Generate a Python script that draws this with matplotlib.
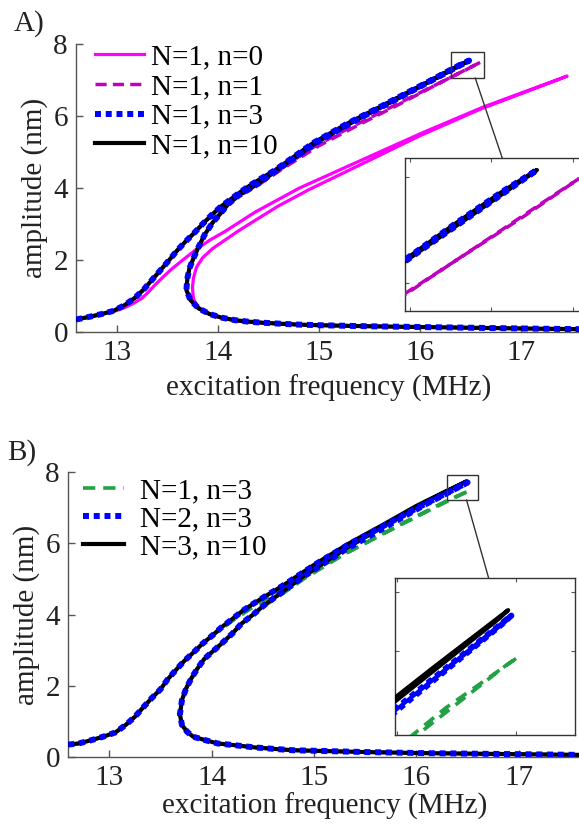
import matplotlib
matplotlib.use("Agg")
import matplotlib.pyplot as plt
from matplotlib.patches import Rectangle, ConnectionPatch

plt.rcParams['font.family'] = ['Liberation Serif', 'DejaVu Serif']

# ---- data (frequency in MHz, amplitude in nm) ----
# each curve: upper branch up to the peak, back along the unstable branch,
# round the turning point and out along the lower branch

# panel A: N=1, n=10 (black) and N=1, n=3 (blue) lie on top of each other
f_A_n10 = [12.60, 12.74, 12.85, 12.97, 13.08, 13.18, 13.27, 13.35, 13.44, 13.52,
           13.60, 13.68, 13.77, 13.85, 13.94, 14.03, 14.13, 14.23, 14.34, 14.45,
           14.57, 14.70, 14.95, 15.29, 15.62, 15.94, 16.14, 16.27, 16.40, 16.49,
           16.45, 16.20, 15.80, 15.40, 15.00, 14.65, 14.40, 14.21, 14.11, 13.95,
           13.87, 13.81, 13.76, 13.72, 13.70, 13.69, 13.73, 13.81, 13.92, 14.04,
           14.17, 14.30, 14.44, 14.57, 14.77, 15.00, 15.50, 16.00, 16.50, 17.00, 17.60]
a_A_n10 = [0.35, 0.43, 0.50, 0.59, 0.75, 0.95, 1.19, 1.45, 1.74, 2.00,
           2.27, 2.51, 2.76, 3.00, 3.25, 3.48, 3.69, 3.90, 4.11, 4.30,
           4.50, 4.76, 5.26, 5.80, 6.27, 6.74, 7.03, 7.23, 7.42, 7.54,
           7.48, 7.11, 6.51, 5.93, 5.30, 4.62, 4.12, 3.80, 3.57, 3.04,
           2.70, 2.36, 2.05, 1.77, 1.49, 1.17, 0.89, 0.66, 0.50, 0.40,
           0.33, 0.29, 0.26, 0.24, 0.21, 0.19, 0.16, 0.14, 0.12, 0.10, 0.08]
f_A_n3 = f_A_n10
a_A_n3 = a_A_n10

# panel A: N=1, n=1 (dashed magenta)
f_A_n1 = [12.60, 12.74, 12.85, 12.97, 13.08, 13.18, 13.27, 13.35, 13.44, 13.52,
          13.60, 13.68, 13.77, 13.85, 13.94, 14.03, 14.13, 14.23, 14.34, 14.57,
          14.95, 15.29, 15.62, 15.94, 16.27, 16.45, 16.60,
          16.55, 16.20, 15.80, 15.40, 15.00, 14.65, 14.40, 14.21, 14.11, 13.95,
          13.87, 13.81, 13.76, 13.72, 13.70, 13.69, 13.73, 13.81, 13.92, 14.04,
          14.17, 14.30, 14.44, 14.57, 14.77, 15.00, 15.50, 16.00, 16.50, 17.00, 17.60]
a_A_n1 = [0.35, 0.43, 0.50, 0.59, 0.75, 0.95, 1.19, 1.45, 1.74, 2.00,
          2.27, 2.51, 2.76, 3.00, 3.25, 3.48, 3.68, 3.88, 4.07, 4.44,
          5.14, 5.65, 6.11, 6.56, 7.02, 7.27, 7.49,
          7.42, 6.92, 6.33, 5.76, 5.17, 4.55, 4.08, 3.78, 3.55, 3.03,
          2.70, 2.36, 2.05, 1.77, 1.49, 1.17, 0.89, 0.66, 0.50, 0.40,
          0.33, 0.29, 0.26, 0.24, 0.21, 0.19, 0.16, 0.14, 0.12, 0.10, 0.08]

# panel A: N=1, n=0 (solid magenta)
f_A_n0 = [12.60, 12.74, 12.85, 12.97, 13.08, 13.18, 13.25, 13.31, 13.38, 13.46,
          13.54, 13.65, 13.78, 13.92, 14.07, 14.22, 14.37, 14.81, 15.38, 16.04,
          16.63, 17.46,
          17.40, 16.60, 16.00, 15.40, 14.90, 14.60, 14.37, 14.20, 14.07, 13.95,
          13.85, 13.79, 13.76, 13.75, 13.76, 13.80, 13.86, 13.95, 14.05, 14.20,
          14.40, 14.60, 15.00, 15.50, 16.00, 16.50, 17.00, 17.60]
a_A_n0 = [0.35, 0.42, 0.49, 0.57, 0.68, 0.82, 0.94, 1.10, 1.31, 1.53,
          1.74, 1.99, 2.28, 2.55, 2.79, 3.06, 3.33, 4.00, 4.72, 5.55,
          6.25, 7.11,
          7.04, 6.19, 5.45, 4.63, 3.95, 3.50, 3.10, 2.80, 2.55, 2.32,
          2.06, 1.80, 1.50, 1.24, 0.92, 0.72, 0.57, 0.46, 0.38, 0.31,
          0.26, 0.23, 0.19, 0.16, 0.14, 0.12, 0.10, 0.08]

# panel B: N=3, n=10 (black)
f_B_n10 = [12.60, 12.70, 12.82, 12.94, 13.06, 13.16, 13.25, 13.33, 13.41, 13.50,
           13.57, 13.65, 13.73, 13.82, 13.91, 14.01, 14.10, 14.20, 14.30, 14.40,
           14.51, 14.62, 14.70, 15.03, 15.35, 15.68, 16.00, 16.26, 16.49,
           16.46, 16.10, 15.70, 15.30, 14.90, 14.70, 14.52, 14.41, 14.29, 14.20,
           14.08, 13.93, 13.86, 13.80, 13.75, 13.71, 13.69, 13.71, 13.76, 13.82,
           13.93, 14.06, 14.20, 14.42, 14.65, 14.80, 15.50, 16.06, 17.00, 17.60]
a_B_n10 = [0.35, 0.38, 0.47, 0.57, 0.69, 0.90, 1.13, 1.39, 1.64, 1.90,
           2.18, 2.44, 2.69, 2.93, 3.18, 3.42, 3.65, 3.87, 4.10, 4.29,
           4.49, 4.68, 4.82, 5.45, 6.01, 6.53, 7.05, 7.42, 7.74,
           7.69, 7.17, 6.51, 5.83, 5.08, 4.65, 4.28, 4.01, 3.74, 3.46,
           3.14, 2.76, 2.48, 2.20, 1.92, 1.60, 1.20, 0.90, 0.71, 0.57,
           0.48, 0.38, 0.34, 0.27, 0.22, 0.19, 0.14, 0.11, 0.08, 0.06]

# panel B: N=2, n=3 (blue dotted)
f_B_n3 = [12.60, 12.70, 12.82, 12.94, 13.06, 13.16, 13.25, 13.33, 13.41, 13.50,
          13.57, 13.65, 13.73, 13.82, 13.91, 14.01, 14.10, 14.20, 14.30, 14.40,
          14.51, 14.62, 14.70, 15.03, 15.35, 15.68, 16.00, 16.26, 16.50,
          16.47, 16.10, 15.70, 15.30, 14.90, 14.70, 14.52, 14.41, 14.29, 14.20,
          14.08, 13.93, 13.86, 13.80, 13.75, 13.71, 13.69, 13.71, 13.76, 13.82,
          13.93, 14.06, 14.20, 14.42, 14.65, 14.80, 15.50, 16.06, 17.00, 17.60]
a_B_n3 = [0.35, 0.38, 0.47, 0.57, 0.69, 0.90, 1.13, 1.39, 1.64, 1.90,
          2.18, 2.44, 2.69, 2.93, 3.18, 3.42, 3.65, 3.87, 4.10, 4.29,
          4.49, 4.68, 4.82, 5.44, 5.99, 6.49, 6.98, 7.36, 7.71,
          7.66, 7.11, 6.46, 5.81, 5.07, 4.65, 4.28, 4.01, 3.74, 3.46,
          3.14, 2.76, 2.48, 2.20, 1.92, 1.60, 1.20, 0.90, 0.71, 0.57,
          0.48, 0.38, 0.34, 0.27, 0.22, 0.19, 0.14, 0.11, 0.08, 0.06]

# panel B: N=1, n=3 (green dashed)
f_B_n3_N1 = [12.60, 12.70, 12.82, 12.94, 13.06, 13.16, 13.25, 13.33, 13.41, 13.50,
             13.57, 13.65, 13.73, 13.82, 13.91, 14.01, 14.20, 14.40, 14.60, 14.80,
             14.99, 15.22, 15.45, 15.66, 15.87, 16.07, 16.30, 16.52,
             16.48, 16.10, 15.70, 15.30, 14.90, 14.70, 14.52, 14.41, 14.29, 14.20,
             14.08, 13.93, 13.86, 13.80, 13.75, 13.71, 13.69, 13.71, 13.76, 13.82,
             13.93, 14.06, 14.20, 14.42, 14.65, 14.80, 15.50, 16.06, 17.00, 17.60]
a_B_n3_N1 = [0.35, 0.38, 0.47, 0.57, 0.69, 0.90, 1.13, 1.39, 1.64, 1.90,
             2.18, 2.44, 2.69, 2.93, 3.18, 3.42, 3.82, 4.20, 4.56, 4.88,
             5.22, 5.59, 5.93, 6.25, 6.57, 6.86, 7.20, 7.48,
             7.43, 6.89, 6.30, 5.70, 5.00, 4.60, 4.25, 4.01, 3.74, 3.46,
             3.14, 2.76, 2.48, 2.20, 1.92, 1.60, 1.20, 0.90, 0.71, 0.57,
             0.48, 0.38, 0.34, 0.27, 0.22, 0.19, 0.14, 0.11, 0.08, 0.06]

labels_A = ['N=1, n=0', 'N=1, n=1', 'N=1, n=3', 'N=1, n=10']
labels_B = ['N=1, n=3', 'N=2, n=3', 'N=3, n=10']

FS = 21
GREY = '#333333'
MAG = '#FF00FF'
MAG_D = '#BF00BF'
BLUE = '#0000FF'
GREEN = '#22A145'
DOT = (0, (1, 0.8))


def style_main(ax, xpad):
    ax.set_xlim(12.6, 17.6)
    ax.set_ylim(0, 8)
    ax.set_xticks([13, 14, 15, 16, 17])
    ax.set_yticks([0, 2, 4, 6, 8])
    for s in ['top', 'right']:
        ax.spines[s].set_visible(False)
    for s in ['left', 'bottom']:
        ax.spines[s].set_color('#555555')
        ax.spines[s].set_linewidth(1.0)
    ax.tick_params(direction='in', length=5, width=1, colors='#555555',
                   labelcolor='#222222', labelsize=FS, pad=6)
    ax.set_xlabel('excitation frequency (MHz)', fontsize=FS, color='#222222', labelpad=xpad)
    ax.set_ylabel('amplitude (nm)', fontsize=FS, color='#222222', labelpad=4)


def style_inset(ax, xl, yl, xt, yt):
    ax.set_xlim(*xl)
    ax.set_ylim(*yl)
    ax.set_xticks(xt)
    ax.set_yticks(yt)
    ax.tick_params(direction='in', length=3, width=0.8, colors='#555555',
                   labelbottom=False, labelleft=False,
                   top=True, right=True)
    for s in ax.spines.values():
        s.set_color(GREY)
        s.set_linewidth(1.0)


fig = plt.figure(figsize=(5.79, 8.26), dpi=100)

# ---------------- panel A ----------------
axA = fig.add_axes([0.1318, 0.598, 0.872, 0.3487])
insA = fig.add_axes([0.6995, 0.6235, 0.311, 0.1852])

for ax in (axA, insA):
    ax.plot(f_A_n0, a_A_n0, color=MAG, lw=2.3, zorder=2)
    ax.plot(f_A_n1, a_A_n1, color=MAG_D, lw=2.5, dashes=(3.2, 1.8), zorder=3)
    ax.plot(f_A_n3, a_A_n3, color=BLUE, lw=4.3, linestyle=DOT,
            dash_capstyle='butt', zorder=5)
    ax.plot(f_A_n10, a_A_n10, color='black', lw=3.0, zorder=4)

style_main(axA, 6)
style_inset(insA, (16.142, 16.617), (6.743, 7.608), [16.155, 16.37, 16.585], [6.9, 7.5])

hA = [plt.Line2D([], [], color=MAG, lw=2.3),
      plt.Line2D([], [], color=MAG_D, lw=2.5, dashes=(3.2, 1.8)),
      plt.Line2D([], [], color=BLUE, lw=4.3, linestyle=DOT, dash_capstyle='butt'),
      plt.Line2D([], [], color='black', lw=3.0)]
axA.legend(hA, labels_A, loc='upper left', bbox_to_anchor=(0.032, 1.01),
           frameon=False, fontsize=FS, handlelength=1.65, handletextpad=0.25,
           labelspacing=0.11, borderpad=0.1, borderaxespad=0.0)

axA.add_patch(Rectangle((16.31, 7.06), 0.33, 0.73, fill=False, ec=GREY, lw=1.0, zorder=6))
fig.add_artist(ConnectionPatch(xyA=(16.55, 7.06), coordsA=axA.transData,
                               xyB=(0.54, 1.0), coordsB=insA.transAxes,
                               color=GREY, lw=1.0))

# ---------------- panel B ----------------
axB = fig.add_axes([0.118, 0.0835, 0.884, 0.345])
insB = fig.add_axes([0.6822, 0.1102, 0.3109, 0.1901])

for ax in (axB, insB):
    ax.plot(f_B_n3_N1, a_B_n3_N1, color=GREEN, lw=2.6, dashes=(3.4, 2.2), zorder=3)
    ax.plot(f_B_n10, a_B_n10, color='black', lw=3.0, zorder=4)
    ax.plot(f_B_n3, a_B_n3, color=BLUE, lw=4.3, linestyle=DOT,
            dash_capstyle='butt', zorder=5)

style_main(axB, 1)
style_inset(insB, (16.145, 16.694), (7.05, 7.918), [16.15, 16.514], [7.513, 7.843])

hB = [plt.Line2D([], [], color=GREEN, lw=2.6, dashes=(3.4, 2.2)),
      plt.Line2D([], [], color=BLUE, lw=4.3, linestyle=DOT, dash_capstyle='butt'),
      plt.Line2D([], [], color='black', lw=3.0)]
axB.legend(hB, labels_B, loc='upper left', bbox_to_anchor=(0.023, 0.99),
           frameon=False, fontsize=FS, handlelength=1.4, handletextpad=0.55,
           labelspacing=0.05, borderpad=0.1, borderaxespad=0.0)

axB.add_patch(Rectangle((16.30, 7.22), 0.30, 0.71, fill=False, ec=GREY, lw=1.0, zorder=6))
fig.add_artist(ConnectionPatch(xyA=(16.49, 7.22), coordsA=axB.transData,
                               xyB=(0.52, 1.0), coordsB=insB.transAxes,
                               color=GREY, lw=1.0))

fig.text(0.024, 0.971, 'A)', fontsize=FS, va='center', ha='left', color='#222222')
fig.text(0.012, 0.4516, 'B)', fontsize=FS, va='center', ha='left', color='#222222')

fig.savefig('out.png', dpi=100)
